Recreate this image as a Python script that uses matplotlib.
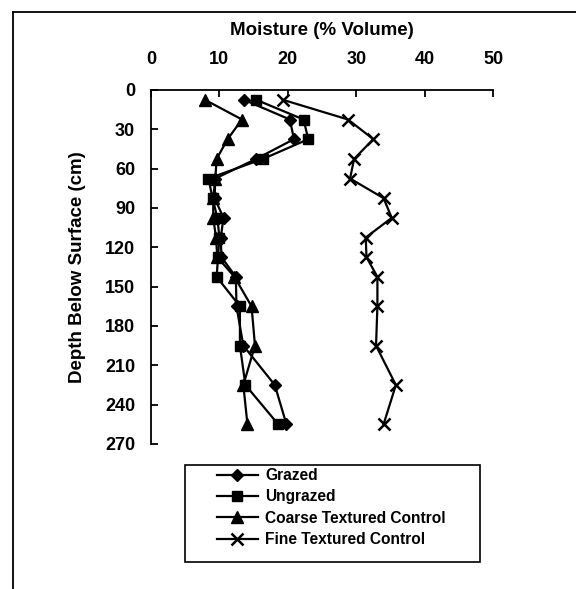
import matplotlib
matplotlib.use("Agg")
import matplotlib.pyplot as plt
from matplotlib.lines import Line2D
from matplotlib.patches import Rectangle

# ---- data ----
depth = [7.5, 22.5, 37.5, 52.5, 67.5, 82.5, 97.5, 112.5, 127.5, 142.5, 165, 195, 225, 255]
grazed = [13.6, 20.3, 20.9, 15.4, 9.4, 9.3, 10.6, 10.2, 10.3, 12.4, 12.5, 13.5, 18.1, 19.8]
ungrazed = [15.4, 22.3, 23.0, 16.4, 8.4, 9.0, 9.7, 10.0, 9.8, 9.6, 13.0, 13.0, 13.8, 18.6]
coarse = [7.9, 13.3, 11.2, 9.6, 9.4, 9.1, 9.1, 9.5, 9.7, 12.2, 14.7, 15.2, 13.5, 14.1]
fine = [19.3, 28.8, 32.5, 29.7, 29.1, 34.0, 35.2, 31.4, 31.5, 33.1, 33.1, 32.9, 35.8, 34.0]
series_names = ["Grazed", "Ungrazed", "Coarse Textured Control", "Fine Textured Control"]
x_ticks = [0, 10, 20, 30, 40, 50]
y_ticks = [0, 30, 60, 90, 120, 150, 180, 210, 240, 270]

plt.rcParams['font.family'] = ['Liberation Sans', 'DejaVu Sans']
plt.rcParams['font.weight'] = 'bold'

W, H = 576, 589
fig = plt.figure(figsize=(W / 100, H / 100), dpi=100)

left, right, top, bottom = 151, 493, 90, 444
ax = fig.add_axes([left / W, 1 - bottom / H, (right - left) / W, (bottom - top) / H])

styles = [
    dict(marker='D', markersize=6.5),
    dict(marker='s', markersize=7),
    dict(marker='^', markersize=8),
    dict(marker='x', markersize=8, markeredgewidth=1.8),
]
for vals, name, st in zip([grazed, ungrazed, coarse, fine], series_names, styles):
    ax.plot(vals, depth, color='black', linewidth=1.6, label=name, clip_on=False,
            markerfacecolor='black', markeredgecolor='black', **st)

ax.set_xlim(0, 50)
ax.set_ylim(270, 0)
ax.set_xticks(x_ticks)
ax.set_yticks(y_ticks)
ax.xaxis.tick_top()
ax.xaxis.set_label_position('top')
for s in ['right', 'bottom']:
    ax.spines[s].set_visible(False)
for s in ['left', 'top']:
    ax.spines[s].set_linewidth(1.3)
ax.tick_params(axis='x', direction='in', length=5, width=1.3, pad=16, labelsize=13)
ax.tick_params(axis='y', direction='in', length=5, width=1.3, pad=11.5, labelsize=13)
for lab in ax.get_xticklabels() + ax.get_yticklabels():
    lab.set_fontweight('bold')

ax.set_xlabel("Moisture (% Volume)", fontsize=13.5, fontweight='bold')
ax.xaxis.set_label_coords(0.5, 1 + (top - 35) / (bottom - top))
ax.set_ylabel("Depth Below Surface (cm)", fontsize=13.5, fontweight='bold')
ax.yaxis.set_label_coords((86 - left) / (right - left), 0.5)

# legend (entries) and its box
leg = fig.legend(loc='upper left', bbox_to_anchor=(217 / W, 1 - 468 / H), frameon=False,
                 fontsize=11.2, handlelength=2.63, handletextpad=0.45, labelspacing=0.41,
                 borderpad=0, borderaxespad=0)
for t in leg.get_texts():
    t.set_fontweight('bold')
fig.add_artist(Rectangle((185 / W, 1 - 562 / H), (480 - 185) / W, (562 - 465) / H,
                         transform=fig.transFigure, fill=False, edgecolor='black', linewidth=1.2))

# outer frame (top and left edges)
fig.add_artist(Line2D([13 / W, 13 / W], [1 - 12 / H, 0], transform=fig.transFigure, color='black', linewidth=1.3))
fig.add_artist(Line2D([13 / W, 1.0], [1 - 12 / H, 1 - 12 / H], transform=fig.transFigure, color='black', linewidth=1.3))

fig.savefig("out.png", dpi=100)
